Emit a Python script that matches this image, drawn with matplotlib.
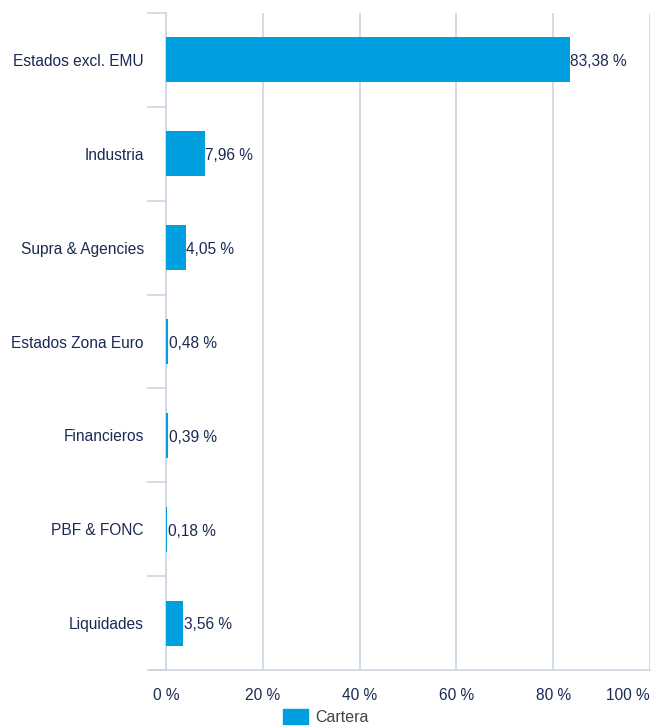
import matplotlib
matplotlib.use("Agg")
import matplotlib.pyplot as plt
from matplotlib.patches import Patch
import numpy as np

categories = ["Estados excl. EMU", "Industria", "Supra & Agencies", "Estados Zona Euro",
              "Financieros", "PBF & FONC", "Liquidades"]
values = [83.38, 7.96, 4.05, 0.48, 0.39, 0.18, 3.56]
value_labels = ["83,38 %", "7,96 %", "4,05 %", "0,48 %", "0,39 %", "0,18 %", "3,56 %"]
xticks = [0, 20, 40, 60, 80, 100]
xtick_labels = ["0 %", "20 %", "40 %", "60 %", "80 %", "100 %"]
series_name = "Cartera"

plt.rcParams['font.family'] = ['Liberation Sans', 'DejaVu Sans']
navy = "#1b2a52"
grid_c = "#ccd6e3"
bar_c = "#009fe0"
fs = 11.2

fig = plt.figure(figsize=(6.52, 7.26), dpi=100)
ax = fig.add_axes([166/652, 1-670/726, (650-166)/652, (670-13)/726])

n = len(categories)
y = np.arange(n)
ax.barh(y, values, height=0.48, color=bar_c, linewidth=0, zorder=3)
for yi, v, lab in zip(y, values, value_labels):
    ax.text(v + 0.15, yi + 0.02, lab, va="center", ha="left", fontsize=fs, color=navy, zorder=4)

ax.set_xlim(0, 100)
ax.set_ylim(n - 0.5, -0.5)
ax.set_yticks(y)
ax.set_yticklabels(categories, fontsize=fs, color=navy)
ax.set_yticks(np.arange(-0.5, n, 1), minor=True)
ax.tick_params(axis="y", which="major", length=0, pad=16)
ax.tick_params(axis="y", which="minor", length=14, color=grid_c, width=1.2)

ax.set_xticks(xticks)
ax.set_xticklabels(xtick_labels, fontsize=fs, color=navy)
ax.get_xticklabels()[-1].set_horizontalalignment("right")
ax.tick_params(axis="x", length=0, pad=13)

ax.grid(axis="x", color=grid_c, linewidth=1.2, zorder=0)
for s in ["top", "right"]:
    ax.spines[s].set_visible(False)
ax.spines["left"].set_color(grid_c)
ax.spines["left"].set_linewidth(1.2)
ax.spines["bottom"].set_color(grid_c)
ax.spines["bottom"].set_linewidth(1.2)
ax.spines["bottom"].set_bounds(-3, 100)
ax.spines["bottom"].set_clip_on(False)

fig.legend(handles=[Patch(color=bar_c, label=series_name)], loc="center",
           bbox_to_anchor=(326/652, 1-717/726), frameon=False, fontsize=11.5,
           labelcolor="#444444", handlelength=1.6, handleheight=1.1, handletextpad=0.45)

fig.savefig("out.png", dpi=100)
